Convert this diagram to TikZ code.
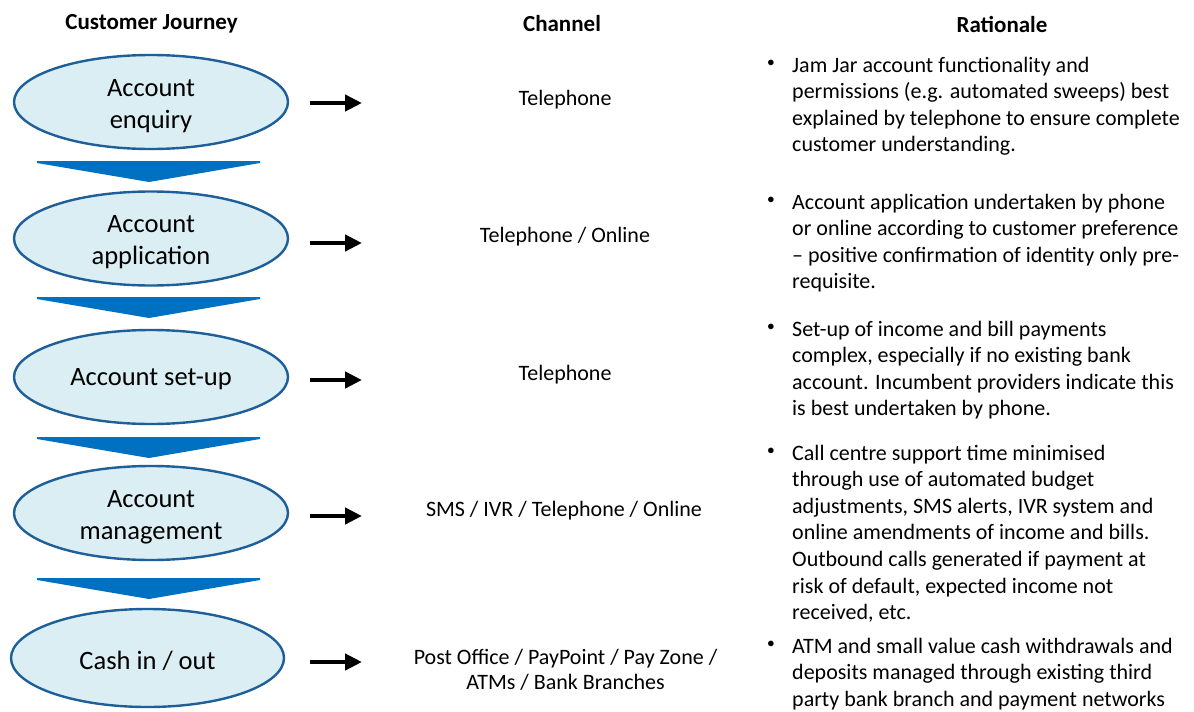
\documentclass[tikz,border=0pt]{standalone}
\usepackage{fontspec}
\setmainfont{Carlito}
\usetikzlibrary{shapes.geometric,arrows.meta}
\definecolor{ellfill}{HTML}{DAEEF3}
\definecolor{elldraw}{HTML}{1F5F99}
\definecolor{chev}{HTML}{0070C0}
\tikzset{
  stage/.style={ellipse,draw=elldraw,fill=ellfill,line width=2.4pt,minimum width=274pt,minimum height=94pt,inner sep=0pt},
  stagetxt/.style={align=center,inner sep=0pt,font=\fontsize{26.5}{32}\selectfont},
  hdr/.style={font=\fontsize{23}{26}\selectfont\bfseries},
  chan/.style={align=center,font=\fontsize{22}{25}\selectfont},
  rat/.style={anchor=north west,align=left,inner sep=0pt,font=\fontsize{22}{26.6}\selectfont},
  blt/.style={inner sep=0pt,font=\fontsize{15}{15}\selectfont},
  arr/.style={line width=4.5pt,-{Triangle[length=17pt,width=16pt]}},
}
\begin{document}
\begin{tikzpicture}[x=1pt,y=-1pt]
\useasboundingbox (0,0) rectangle (1194,712);
% headers
\node[hdr] (h1) at (151.5,24) {Customer Journey};
\node[hdr] (h2) at (562,24) {Channel};
\node[hdr] (h3) at (1002,24) {Rationale};
% stages
\node[stage] (e1) at (151,102) {};
\node[stage] (e2) at (151,238.5) {};
\node[stage] (e3) at (151,377) {};
\node[stage] (e4) at (151,513) {};
\node[stage,minimum width=273pt,minimum height=98pt] (e5) at (147.5,658) {};
\node[stagetxt] (l1) at (151,106) {Account\\enquiry};
\node[stagetxt] (l2) at (151,242.5) {Account\\application};
\node[stagetxt] (l3) at (151,379) {Account set-up};
\node[stagetxt] (l4) at (151,517) {Account\\management};
\node[stagetxt] (l5) at (147.5,661) {Cash in / out};
% chevrons
\foreach \t in {161,297,437,578}{
  \fill[chev] (37,\t) -- (260,\t) -- (260,\t+2) -- (149,\t+21) -- (37,\t+2) -- cycle;
}
% channels
\node[chan] (c1) at (565,100) {Telephone};
\node[chan] (c2) at (565,237) {Telephone / Online};
\node[chan] (c3) at (565,375) {Telephone};
\node[chan] (c4) at (564,511) {SMS / IVR / Telephone / Online};
\node[chan] (c5) at (565.5,670) {Post Office / PayPoint / Pay Zone /\\ATMs / Bank Branches};
% arrows
\foreach \i/\y in {1/103,2/243,3/380,4/516,5/662}{
  \coordinate (s\i) at (310,\y);
  \coordinate (t\i) at (362,\y);
  \draw[arr] (s\i) -- (t\i);
}
% rationale
\node[blt] (b1) at (771,63) {$\bullet$};
\node[rat] (r1) at (792,56.6) {Jam Jar account functionality and\\permissions (e.g. automated sweeps) best\\explained by telephone to ensure complete\\customer understanding.};
\node[blt] (b2) at (771,200) {$\bullet$};
\node[rat] (r2) at (792,193.6) {Account application undertaken by phone\\or online according to customer preference\\-- positive confirmation of identity only pre-\\requisite.};
\node[blt] (b3) at (771,327) {$\bullet$};
\node[rat] (r3) at (792,320.6) {Set-up of income and bill payments\\complex, especially if no existing bank\\account. Incumbent providers indicate this\\is best undertaken by phone.};
\node[blt] (b4) at (771,451) {$\bullet$};
\node[rat] (r4) at (792,444.6) {Call centre support time minimised\\through use of automated budget\\adjustments, SMS alerts, IVR system and\\online amendments of income and bills.\\Outbound calls generated if payment at\\risk of default, expected income not\\received, etc.};
\node[blt] (b5) at (771,644) {$\bullet$};
\node[rat] (r5) at (792,637.6) {ATM and small value cash withdrawals and\\deposits managed through existing third\\party bank branch and payment networks};
\end{tikzpicture}
\end{document}
